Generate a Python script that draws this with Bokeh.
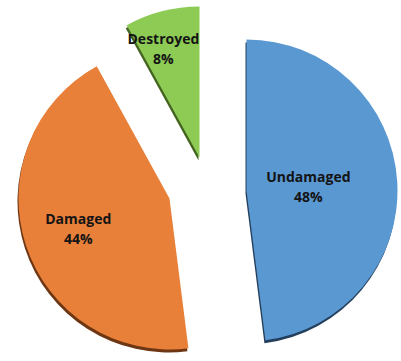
import math
from bokeh.plotting import figure
from bokeh.models import Range1d, ColumnDataSource
from bokeh.embed import file_html
from bokeh.resources import INLINE
from bokeh.core.properties import value

# ---- data ----
categories = ["Undamaged", "Damaged", "Destroyed"]
shares = [48, 44, 8]

# ---- style / layout ----
colors = ["#5A98D2", "#E8803A", "#8DCB55"]
shadow_colors = ["#243F5C", "#6E3612", "#43641F"]
W, H = 401, 361
R = 151
# exploded slice centres (screen px)
centers = [(246, 190), (169, 198), (199, 157)]
label_dist = [62, 97, 113]
label_nudge = [(0, 0), (1, 0), (-8, 0)]
shadow_off = (-1, 3)

total = float(sum(shares))
start_cw = []
end_cw = []
acc = 0.0
for s in shares:
    start_cw.append(acc)
    acc += s / total * 360.0
    end_cw.append(acc)

xs, ys, sa, ea, lx, ly = [], [], [], [], [], []
for i in range(len(shares)):
    cx, cy = centers[i]
    xs.append(cx)
    ys.append(H - cy)
    sa.append(math.radians(90 - start_cw[i]))
    ea.append(math.radians(90 - end_cw[i]))
    mid = math.radians((start_cw[i] + end_cw[i]) / 2)
    px = cx + label_dist[i] * math.sin(mid) + label_nudge[i][0]
    py = cy - label_dist[i] * math.cos(mid) + label_nudge[i][1]
    lx.append(px)
    ly.append(H - py)

src = ColumnDataSource(dict(
    x=xs, y=ys, sx=[x + shadow_off[0] for x in xs], sy=[y - shadow_off[1] for y in ys],
    sa=sa, ea=ea, color=colors, scolor=shadow_colors,
    lx=lx, ly1=[y + 10 for y in ly], ly2=[y - 10 for y in ly],
    name=categories, pct=["%d%%" % s for s in shares],
))

p = figure(width=W, height=H, x_range=Range1d(0, W), y_range=Range1d(0, H),
           x_axis_type=None, y_axis_type=None, min_border=0,
           toolbar_location=None, output_backend="svg")
p.grid.visible = False
p.outline_line_color = None
p.background_fill_color = "white"
p.border_fill_color = "white"

p.wedge(x="sx", y="sy", radius=R, start_angle="sa", end_angle="ea", direction="clock",
        fill_color="scolor", line_color=None, source=src)
p.wedge(x="x", y="y", radius=R, start_angle="sa", end_angle="ea", direction="clock",
        fill_color="color", line_color=None, source=src)

for col, ycol in (("name", "ly1"), ("pct", "ly2")):
    p.text(x="lx", y=ycol, text=col, source=src, text_align="center", text_baseline="middle",
           text_font=value("Open Sans"), text_font_style="bold", text_font_size="14px",
           text_color="#141414")

open("out.html", "w").write(file_html(p, INLINE))
